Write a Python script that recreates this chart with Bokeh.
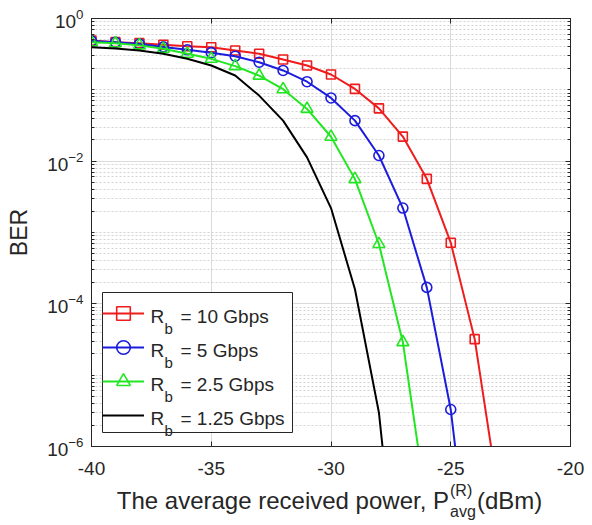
from bokeh.plotting import figure
from bokeh.layouts import column
from bokeh.models import (Range1d, FixedTicker, LinearAxis, LogAxis, Legend,
                          LegendItem, Label, ColumnDataSource, BoxAnnotation, Div)
from bokeh.embed import file_html
from bokeh.resources import INLINE

# ---------------- data ----------------
power_10 = [-40, -39, -38, -37, -36, -35, -34, -33, -32, -31, -30, -29, -28, -27, -26, -25, -24, -23]
ber_10 = [0.49, 0.466, 0.451, 0.428, 0.409, 0.395, 0.356, 0.32, 0.266, 0.219, 0.164,
          0.103, 0.055, 0.0221, 0.00565, 7.2e-4, 3.2e-5, 2.0e-7]

power_5 = [-40, -39, -38, -37, -36, -35, -34, -33, -32, -31, -30, -29, -28, -27, -26, -25, -24]
ber_5 = [0.485, 0.465, 0.44, 0.40, 0.364, 0.332, 0.296, 0.244, 0.187, 0.13, 0.077,
         0.037, 0.012, 2.2e-3, 1.7e-4, 3.3e-6, 5e-9]

power_25 = [-40, -39, -38, -37, -36, -35, -34, -33, -32, -31, -30, -29, -28, -27, -26]
ber_25 = [0.465, 0.45, 0.42, 0.376, 0.32, 0.272, 0.215, 0.158, 0.102, 0.054, 0.022,
          5.6e-3, 6.9e-4, 2.9e-5, 1.4e-7]

power_125 = [-40, -39, -38, -37, -36, -35, -34, -33, -32, -31, -30, -29, -28, -27]
ber_125 = [0.396, 0.38, 0.356, 0.32, 0.272, 0.219, 0.159, 0.083, 0.037, 0.0113,
           2.2e-3, 1.6e-4, 3e-6, 2e-9]

rate_labels = ["10", "5", "2.5", "1.25"]
x_ticks = [-40, -35, -30, -25, -20]
y_ticks = [1e-6, 1e-4, 1e-2, 1]
y_minor = [k * 10.0 ** e for e in range(-6, 0) for k in range(1, 10) if not (k == 1 and e % 2 == 0)]

FONT = "Liberation Sans"
TXT = "#262626"

p = figure(width=592, height=483, x_range=Range1d(-40, -20), y_range=Range1d(1e-6, 1),
           y_axis_type="log", output_backend="svg", toolbar_location=None,
           min_border_left=91, min_border_right=22, min_border_top=18, min_border_bottom=37,
           background_fill_color="white", border_fill_color="white")
p.outline_line_color = TXT
p.outline_line_width = 1

x_ticker = FixedTicker(ticks=x_ticks, minor_ticks=[])
y_ticker = FixedTicker(ticks=y_ticks, minor_ticks=y_minor)

xa = p.xaxis[0]
ya = p.yaxis[0]
xa.ticker = x_ticker
ya.ticker = y_ticker
xa.major_label_overrides = {t: str(t) for t in x_ticks}
for ax in (xa, ya):
    ax.axis_line_color = TXT
    ax.major_tick_line_color = TXT
    ax.minor_tick_line_color = TXT
    ax.major_tick_in = 5
    ax.major_tick_out = 0
    ax.minor_tick_in = 3
    ax.minor_tick_out = 0
    ax.major_label_text_font = FONT
    ax.major_label_text_font_size = "19px"
    ax.major_label_text_color = TXT
xa.major_label_standoff = 15
ya.major_label_standoff = 8
ya.axis_label = "BER"
ya.axis_label_text_font = FONT
ya.axis_label_text_font_size = "23px"
ya.axis_label_text_font_style = "normal"
ya.axis_label_text_color = TXT
ya.axis_label_standoff = 12

p.xgrid.ticker = x_ticker
p.ygrid.ticker = y_ticker
p.grid.grid_line_color = "#dadada"
p.grid.grid_line_width = 1
p.ygrid.minor_grid_line_color = "#d2d2d2"
p.ygrid.minor_grid_line_dash = "2 2"

# box-style ticks on the top and right edges (no labels)
top = LinearAxis(ticker=x_ticker, major_label_text_font_size="1px", major_label_text_color=None,
                 major_label_standoff=0, axis_line_color=TXT, major_tick_line_color=TXT,
                 major_tick_in=5, major_tick_out=0, minor_tick_line_color=None)
right = LogAxis(ticker=y_ticker, major_label_text_font_size="1px", major_label_text_color=None,
                major_label_standoff=0, axis_line_color=TXT, major_tick_line_color=TXT,
                major_tick_in=5, major_tick_out=0,
                minor_tick_line_color=TXT, minor_tick_in=3, minor_tick_out=0)
p.add_layout(top, "above")
p.add_layout(right, "right")

# opaque legend panel (white box with border) under the legend entries
p.add_layout(BoxAnnotation(left=11, right=201, bottom=14, top=154,
                           left_units="screen", right_units="screen",
                           bottom_units="screen", top_units="screen",
                           fill_color="white", fill_alpha=1.0,
                           line_color=TXT, line_width=1, line_alpha=1.0, level="underlay"))

series = [
    (power_10, ber_10, "#ee1c1c", "square", 9),
    (power_5, ber_5, "#1c1cdc", "circle", 10),
    (power_25, ber_25, "#22e622", "triangle", 12),
    (power_125, ber_125, "#000000", None, 0),
]

items = []
for i, (xs, ys, col, mk, sz) in enumerate(series):
    src = ColumnDataSource(dict(x=xs, y=ys))
    ln = p.line("x", "y", source=src, line_color=col, line_width=2.0)
    rends = [ln]
    if mk is not None:
        vis = [(a, b) for a, b in zip(xs, ys) if b >= 1e-6]
        msrc = ColumnDataSource(dict(x=[a for a, _ in vis], y=[b for _, b in vis]))
        sc = p.scatter("x", "y", source=msrc, marker=mk, size=sz, line_color=col,
                       fill_color=None, line_width=1.6)
        rends.append(sc)
    items.append(LegendItem(label=" " * (i + 1), renderers=rends))

legend = Legend(items=items, location=(11, 14), padding=2, spacing=0, margin=0,
                glyph_width=42, glyph_height=34, label_height=34, label_width=140,
                label_standoff=4, border_line_color=None,
                background_fill_alpha=0.0, label_text_font_size="19px")
p.add_layout(legend, "center")

def add_label(fig, x, y, text, size, align="left"):
    fig.add_layout(Label(x=x, y=y, x_units="screen", y_units="screen", text=text,
                         text_font=FONT, text_font_size=size, text_color=TXT,
                         text_align=align, text_baseline="alphabetic", level="overlay"))

# legend texts with subscript b
for i, r in enumerate(rate_labels):
    base = 130 - 34 * i
    add_label(p, 59, base, "R", "19px")
    add_label(p, 73, base - 12, "b", "15px")
    add_label(p, 89, base, "= " + r + " Gbps", "19px")

# x-axis title (with super/subscript) as real HTML text below the plot
span = "position:absolute; white-space:nowrap; font-family:'Liberation Sans'; color:#262626;"
xtitle = (
    '<div style="position:relative; width:592px; height:42px;">'
    f'<span style="{span} right:143px; top:6px; font-size:24px; line-height:24px;">'
    'The average received power, P</span>'
    f'<span style="{span} left:450px; top:0px; font-size:16px; line-height:16px;">(R)</span>'
    f'<span style="{span} left:450px; top:21px; font-size:16px; line-height:16px;">avg</span>'
    f'<span style="{span} left:477px; top:6px; font-size:24px; line-height:24px;">(dBm)</span>'
    '</div>'
)
xlabel_div = Div(text=xtitle, width=592, height=42, margin=0)

layout = column(p, xlabel_div, spacing=0)
open("out.html", "w").write(file_html(layout, INLINE))
